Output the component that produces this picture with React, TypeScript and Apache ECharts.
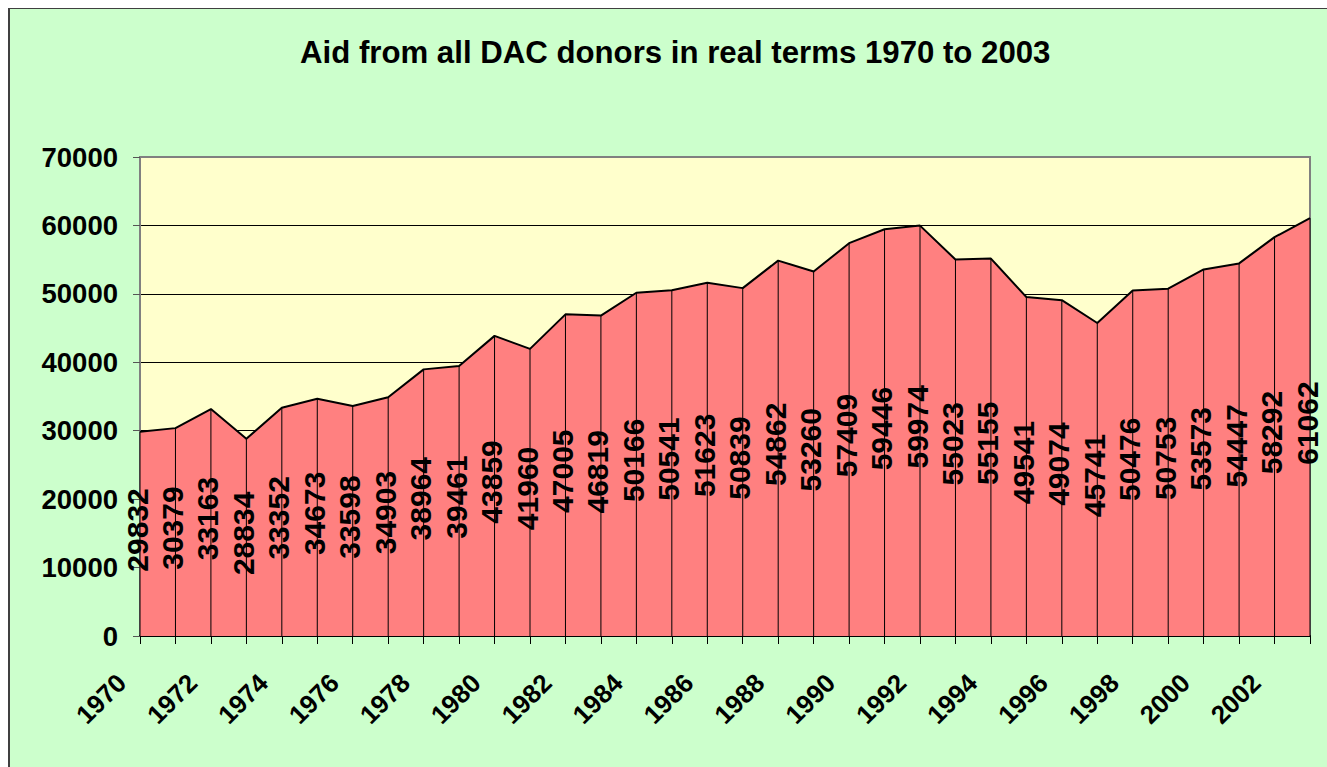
import React, { useEffect, useRef } from "react";
import * as echarts from "echarts";

const years: string[] = [
  "1970", "1971", "1972", "1973", "1974", "1975", "1976", "1977", "1978", "1979",
  "1980", "1981", "1982", "1983", "1984", "1985", "1986", "1987", "1988", "1989",
  "1990", "1991", "1992", "1993", "1994", "1995", "1996", "1997", "1998", "1999",
  "2000", "2001", "2002", "2003",
];

const aidValues: number[] = [
  29832, 30379, 33163, 28834, 33352, 34673, 33598, 34903, 38964, 39461,
  43859, 41960, 47005, 46819, 50166, 50541, 51623, 50839, 54862, 53260,
  57409, 59446, 59974, 55023, 55155, 49541, 49074, 45741, 50476, 50753,
  53573, 54447, 58292, 61062,
];

const titleText = "Aid from all DAC donors in real terms 1970 to 2003";
const yMin = 0;
const yMax = 70000;
const yInterval = 10000;

const FONT = "'Liberation Sans', Arial, Helvetica, sans-serif";

export default function App() {
  const ref = useRef<HTMLDivElement>(null);

  useEffect(() => {
    if (!ref.current) return;
    const chart = echarts.init(ref.current, null, { renderer: "svg" });
    chart.setOption({
      animation: false,
      backgroundColor: "#CCFFCC",
      title: {
        text: titleText,
        left: 290,
        top: 28,
        padding: 0,
        textStyle: {
          fontFamily: FONT,
          fontSize: 31.2,
          fontWeight: "bold",
          color: "#000",
        },
      },
      grid: {
        left: 130,
        right: 17,
        top: 148,
        bottom: 131,
        show: true,
        backgroundColor: "#FFFFCC",
        borderColor: "#808080",
        borderWidth: 2,
      },
      xAxis: {
        type: "category",
        data: years,
        boundaryGap: false,
        axisLine: { show: true, lineStyle: { color: "#000", width: 2 } },
        axisTick: {
          show: true,
          interval: 0,
          length: 8,
          lineStyle: { color: "#000", width: 1 },
        },
        axisLabel: {
          interval: 1,
          rotate: 45,
          margin: 24,
          padding: [0, 26, 0, 0],
          fontFamily: FONT,
          fontSize: 26,
          fontWeight: "bold",
          color: "#000",
        },
        splitLine: { show: false },
      },
      yAxis: {
        type: "value",
        min: yMin,
        max: yMax,
        interval: yInterval,
        axisLine: { show: true, lineStyle: { color: "#808080", width: 2 } },
        axisTick: {
          show: true,
          length: 7,
          lineStyle: { color: "#555", width: 1 },
        },
        axisLabel: {
          margin: 22,
          formatter: (v: number) => String(v),
          fontFamily: FONT,
          fontSize: 27.5,
          fontWeight: "bold",
          color: "#000",
        },
        splitLine: {
          show: true,
          showMaxLine: false,
          lineStyle: { color: "#000", width: 1 },
        },
      },
      series: [
        {
          name: "Aid",
          type: "line",
          data: aidValues,
          showSymbol: false,
          symbol: "none",
          lineStyle: { color: "#000", width: 2 },
          areaStyle: { color: "#FF8080", opacity: 1 },
          z: 2,
        },
        {
          name: "Drop lines",
          type: "bar",
          data: aidValues,
          barWidth: 1,
          itemStyle: { color: "#000" },
          z: 3,
          label: {
            show: true,
            position: "inside",
            rotate: 90,
            offset: [4, -3],
            fontFamily: FONT,
            fontSize: 30,
            fontWeight: "bold",
            color: "#000",
            textBorderWidth: 0,
          },
        },
      ],
    });
    return () => chart.dispose();
  }, []);

  return (
    <div
      style={{
        position: "fixed",
        left: 8,
        top: 8,
        width: 1319,
        height: 759,
        boxSizing: "border-box",
        borderTop: "1px solid #404040",
        borderLeft: "2px solid #404040",
        background: "#CCFFCC",
      }}
    >
      <div ref={ref} style={{ width: 1317, height: 758 }} />
    </div>
  );
}
